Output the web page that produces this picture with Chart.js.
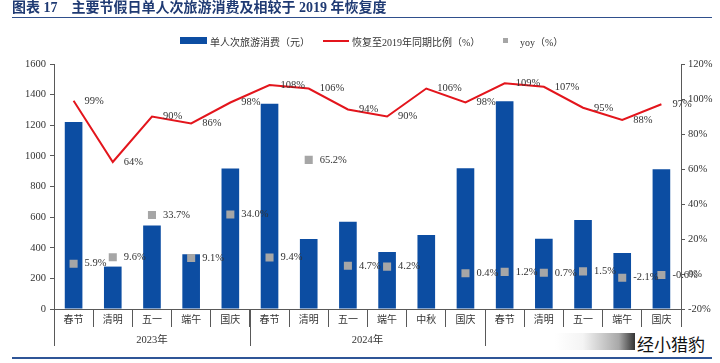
<!DOCTYPE html>
<html>
<head>
<meta charset="utf-8">
<script src="https://cdn.jsdelivr.net/npm/chart.js@4/dist/chart.umd.min.js"></script>
<style>
  body { margin: 0; background: #fff; }
  #wrap { position: relative; width: 720px; height: 363px; overflow: hidden;
          font-family: "Liberation Serif", "Noto Sans CJK SC", serif; }
  #c { position: absolute; left: 0; top: 0; }
  .title { position: absolute; left: 12px; top: 0; width: 700px; height: 17px;
           border-bottom: 1.5px solid #2f4f8c; color: #1f3a73;
           font-weight: bold; font-size: 14px; line-height: 15px; white-space: pre; }
  .title span { margin-left: 14px; }
  .lg { position: absolute; font-size: 10px; color: #333; top: 34px; white-space: nowrap; }
  .sw { position: absolute; }
  .bottomline { position: absolute; left: 12px; top: 357px; width: 700px; height: 1.5px; background: #2f5597; }
  .wm { position: absolute; left: 555px; top: 333px; width: 80px; height: 17px;
        background: linear-gradient(to right, #fff 0%, #f4f4f4 35%, #a8a8a8 80%, #333 100%); }
  .wmt { position: absolute; left: 636px; top: 331px; font-size: 17px; color: #111;
         font-family: "Noto Sans CJK SC", sans-serif; background: #fff; padding: 0 4px 0 1px; }
</style>
</head>
<body>
<div id="wrap">
  <canvas id="c" width="720" height="363"></canvas>
  <div class="title">图表 17<span>主要节假日单人次旅游消费及相较于 2019 年恢复度</span></div>

  <div class="sw" style="left:180px;top:37px;width:27px;height:7px;background:#0c4da2"></div>
  <div class="lg" style="left:210px">单人次旅游消费（元）</div>
  <div class="sw" style="left:323px;top:40px;width:26px;height:2px;background:#e3151c"></div>
  <div class="lg" style="left:352px">恢复至2019年同期比例（%）</div>
  <div class="sw" style="left:503px;top:38px;width:5px;height:5px;background:#a6a6a6"></div>
  <div class="lg" style="left:520px">yoy（%）</div>

  <div class="bottomline"></div>
  <div class="wm"></div>
  <div class="wmt">经小猎豹</div>
</div>
<script>
// ---- data ----
const holidays = ["春节", "清明", "五一", "端午", "国庆",
                  "春节", "清明", "五一", "端午", "中秋", "国庆",
                  "春节", "清明", "五一", "端午", "国庆"];
const years      = ["2023年", "2024年", "2025年"];
const yearCounts = [5, 6, 5];

const spend    = [1222, 277, 546, 357, 918, 1340, 457, 570, 372, 483, 920, 1356, 459, 581, 366, 913];
const recovery = [99, 64, 90, 86, 98, 108, 106, 94, 90, 106, 98, 109, 107, 95, 88, 97];
const yoy      = [5.9, 9.6, 33.7, 9.1, 34.0, 9.4, 65.2, 4.7, 4.2, null, 0.4, 1.2, 0.7, 1.5, -2.1, -0.6];

const FONT = "'Liberation Serif', 'Noto Sans CJK SC', serif";
const AXIS = "#595959";
const TXT  = "#333";

// point labels to the right of line points and yoy squares
const pointLabels = {
  id: "pointLabels",
  afterDatasetsDraw(chart) {
    const ctx = chart.ctx;
    ctx.save();
    ctx.font = `10.5px ${FONT}`;
    ctx.fillStyle = TXT;
    ctx.textAlign = "left";
    ctx.textBaseline = "middle";
    chart.getDatasetMeta(1).data.forEach((pt, i) => {
      ctx.fillText(recovery[i] + "%", pt.x + 11, pt.y);
    });
    chart.getDatasetMeta(2).data.forEach((pt, i) => {
      if (yoy[i] == null) return;
      ctx.fillText(yoy[i].toFixed(1) + "%", pt.x + 11, pt.y);
    });
    ctx.restore();
  }
};

// year groups under the category labels
const yearGroups = {
  id: "yearGroups",
  afterDraw(chart) {
    const x = chart.scales.x, ctx = chart.ctx;
    const bottom = chart.chartArea.bottom;
    const step = x.getPixelForValue(1) - x.getPixelForValue(0);
    ctx.save();
    ctx.strokeStyle = AXIS;
    ctx.lineWidth = 1;
    ctx.font = `10.5px ${FONT}`;
    ctx.fillStyle = TXT;
    ctx.textAlign = "center";
    ctx.textBaseline = "middle";
    let start = 0;
    yearCounts.forEach((n, g) => {
      const x0 = x.getPixelForValue(start) - step / 2;
      const x1 = x.getPixelForValue(start + n - 1) + step / 2;
      ctx.beginPath();
      ctx.moveTo(Math.round(x0) + 0.5, bottom);
      ctx.lineTo(Math.round(x0) + 0.5, bottom + 37);
      ctx.stroke();
      ctx.fillText(years[g], (x0 + x1) / 2, bottom + 31);
      start += n;
    });
    ctx.restore();
  }
};

new Chart(document.getElementById("c"), {
  data: {
    labels: holidays,
    datasets: [
      {
        type: "bar",
        label: "单人次旅游消费（元）",
        data: spend,
        backgroundColor: "#0c4da2",
        barPercentage: 0.45,
        categoryPercentage: 1,
        yAxisID: "y",
        order: 3
      },
      {
        type: "line",
        label: "恢复至2019年同期比例（%）",
        data: recovery,
        borderColor: "#e3151c",
        borderWidth: 2,
        pointRadius: 0,
        tension: 0,
        yAxisID: "y1",
        order: 2
      },
      {
        type: "line",
        label: "yoy（%）",
        data: yoy,
        showLine: false,
        pointStyle: "rect",
        pointRadius: 5.7,
        pointBackgroundColor: "#a6a6a6",
        pointBorderWidth: 0,
        yAxisID: "y1",
        order: 1
      }
    ]
  },
  options: {
    responsive: false,
    animation: false,
    layout: { padding: { top: 64, left: 0, right: 0, bottom: 0 } },
    plugins: { legend: { display: false }, tooltip: { enabled: false } },
    scales: {
      x: {
        offset: true,
        grid: { offset: true, drawOnChartArea: false, tickLength: 18, color: AXIS },
        border: { color: AXIS },
        ticks: { color: TXT, padding: -13, maxRotation: 0, autoSkip: false,
                 font: { size: 10, family: FONT } },
        afterFit: s => { s.height = 54; }
      },
      y: {
        position: "left",
        min: 0, max: 1600,
        ticks: { stepSize: 200, color: TXT, padding: 4, font: { size: 10.5, family: FONT },
                 callback: v => String(v) },
        grid: { drawOnChartArea: false, tickLength: 4, color: AXIS },
        border: { color: AXIS },
        afterFit: s => { s.width = 54; }
      },
      y1: {
        position: "right",
        min: -20, max: 120,
        ticks: { stepSize: 20, color: TXT, padding: 3, font: { size: 10.5, family: FONT },
                 callback: v => v + "%" },
        grid: { drawOnChartArea: false, tickLength: 4, color: AXIS },
        border: { color: AXIS },
        afterFit: s => { s.width = 39; }
      }
    }
  },
  plugins: [pointLabels, yearGroups]
});
</script>
</body>
</html>
